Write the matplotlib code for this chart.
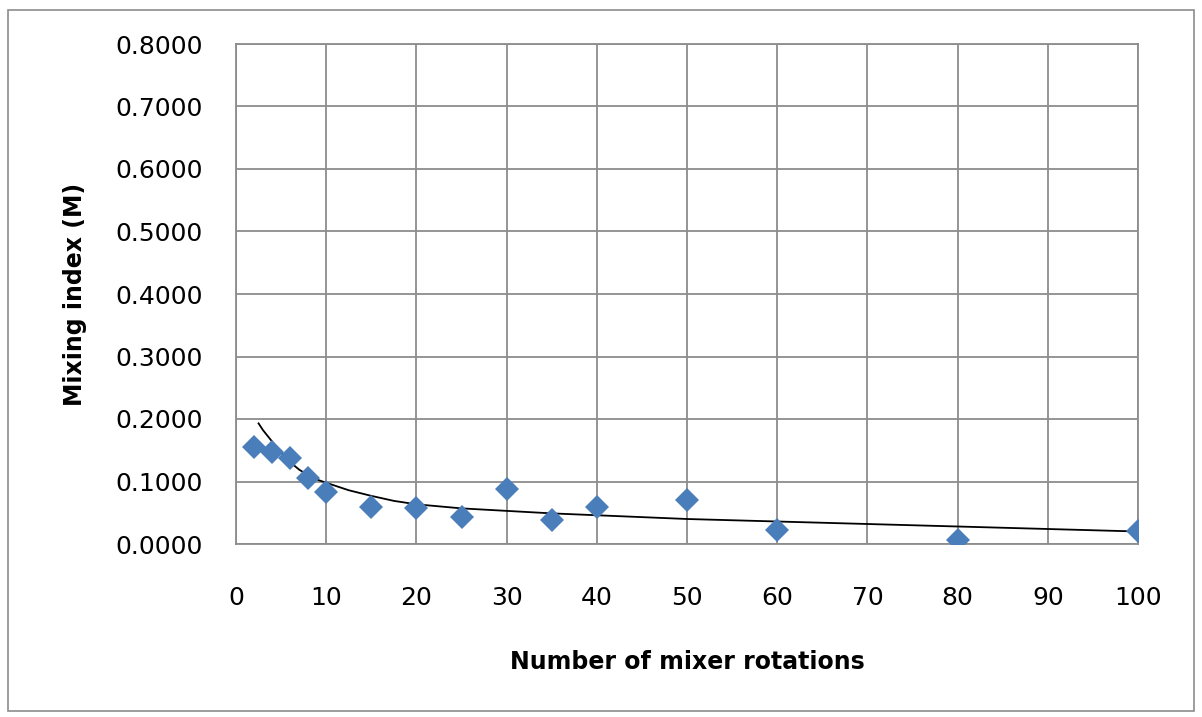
import matplotlib
matplotlib.use("Agg")
from matplotlib import pyplot as plt
from matplotlib.patches import Rectangle
from matplotlib.ticker import FormatStrFormatter, MultipleLocator

# measured mixing index per number of rotations
rotations = [2, 4, 6, 8, 10, 15, 20, 25, 30, 35, 40, 50, 60, 80, 100]
mixing_index = [0.155, 0.147, 0.138, 0.106, 0.083, 0.059, 0.058, 0.043,
                0.088, 0.039, 0.060, 0.070, 0.023, 0.0066, 0.021]

# trend curve
trend_x = [2.5, 3, 4, 5, 6, 7, 8, 9, 10, 12.5, 15, 17.5, 20, 25, 30, 35, 40,
           50, 60, 70, 80, 90, 100]
trend_y = [0.193, 0.182, 0.164, 0.146, 0.131, 0.119, 0.110, 0.103, 0.098,
           0.086, 0.077, 0.069, 0.0635, 0.057, 0.053, 0.049, 0.046,
           0.040, 0.036, 0.032, 0.028, 0.024, 0.020]

grid_col = '#8c8c8c'

fig = plt.figure(figsize=(12.02, 7.17), dpi=100)
ax = fig.add_axes([236 / 1202, 1 - 544 / 717, (1138 - 236) / 1202, (544 - 44) / 717])

# outer chart border
fig.patches.append(Rectangle((8 / 1202, 6 / 717), 1186 / 1202, 701 / 717,
                             transform=fig.transFigure, fill=False,
                             edgecolor=grid_col, linewidth=1.2))

ax.plot(trend_x, trend_y, color='black', linewidth=1.3, zorder=3)
ax.plot(rotations, mixing_index, linestyle='none', marker='D', markersize=12,
        color='#4a7ebb', markeredgewidth=0, zorder=4)

ax.set_xlim(0, 100)
ax.set_ylim(0, 0.8)
ax.xaxis.set_major_locator(MultipleLocator(10))
ax.yaxis.set_major_locator(MultipleLocator(0.1))
ax.yaxis.set_major_formatter(FormatStrFormatter('%.4f'))
ax.grid(True, color=grid_col, linewidth=1.3)
ax.set_axisbelow(True)
for s in ax.spines.values():
    s.set_color(grid_col)
    s.set_linewidth(1.3)
ax.tick_params(length=0, labelsize=18, pad=24)
ax.tick_params(axis='x', pad=30)

ax.set_xlabel('Number of mixer rotations', fontsize=17, fontweight='bold',
              labelpad=29)
ax.set_ylabel('Mixing index (M)', fontsize=17, fontweight='bold', labelpad=20)

fig.savefig('out.png', dpi=100)
